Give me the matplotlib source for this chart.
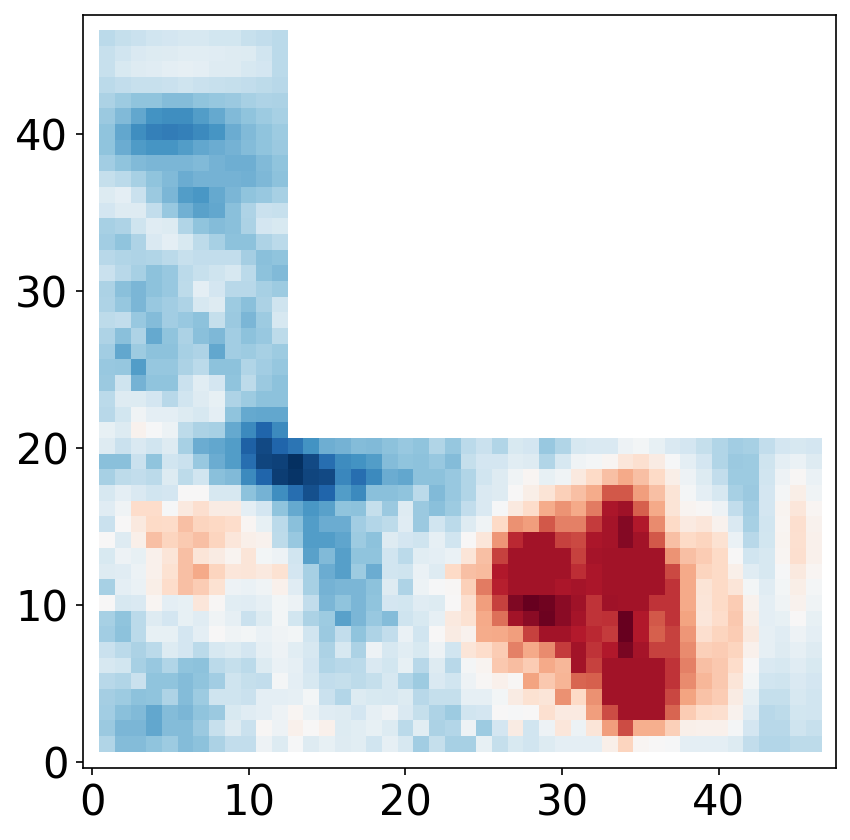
import numpy as np
import matplotlib
matplotlib.use('Agg')
import matplotlib.pyplot as plt

# cell values, top row first
# arm of the L: y = 46 .. 21, x = 1 .. 12
arm_rows = [
    [-.27, -.24, -.22, -.20, -.18, -.17, -.17, -.19, -.19, -.23, -.25, -.27],
    [-.23, -.20, -.15, -.14, -.13, -.11, -.11, -.12, -.13, -.14, -.20, -.27],
    [-.23, -.16, -.13, -.12, -.10, -.09, -.10, -.13, -.13, -.17, -.18, -.27],
    [-.27, -.25, -.23, -.23, -.22, -.21, -.22, -.23, -.24, -.25, -.26, -.28],
    [-.32, -.36, -.40, -.40, -.43, -.43, -.40, -.39, -.37, -.33, -.31, -.32],
    [-.37, -.44, -.52, -.60, -.62, -.62, -.56, -.51, -.44, -.40, -.36, -.33],
    [-.40, -.52, -.62, -.68, -.70, -.68, -.64, -.59, -.50, -.44, -.40, -.36],
    [-.40, -.50, -.57, -.59, -.59, -.56, -.52, -.50, -.47, -.43, -.40, -.37],
    [-.35, -.40, -.44, -.46, -.46, -.46, -.44, -.47, -.49, -.49, -.44, -.40],
    [-.24, -.27, -.33, -.40, -.44, -.50, -.47, -.47, -.47, -.48, -.45, -.41],
    [-.14, -.10, -.22, -.37, -.46, -.56, -.58, -.51, -.46, -.40, -.38, -.33],
    [-.18, -.13, -.13, -.25, -.38, -.48, -.54, -.52, -.42, -.31, -.22, -.23],
    [-.33, -.31, -.21, -.12, -.14, -.30, -.40, -.43, -.42, -.32, -.18, -.16],
    [-.35, -.40, -.31, -.15, -.10, -.16, -.26, -.33, -.41, -.41, -.31, -.27],
    [-.28, -.30, -.31, -.30, -.27, -.23, -.25, -.25, -.25, -.34, -.42, -.40],
    [-.22, -.28, -.33, -.41, -.38, -.27, -.23, -.21, -.17, -.27, -.41, -.44],
    [-.32, -.42, -.46, -.41, -.38, -.26, -.10, -.18, -.28, -.28, -.33, -.36],
    [-.31, -.39, -.46, -.38, -.35, -.31, -.17, -.13, -.36, -.42, -.32, -.21],
    [-.26, -.25, -.38, -.43, -.35, -.38, -.41, -.24, -.37, -.46, -.36, -.17],
    [-.31, -.42, -.31, -.51, -.40, -.32, -.42, -.45, -.35, -.41, -.38, -.26],
    [-.35, -.52, -.36, -.41, -.41, -.33, -.31, -.52, -.35, -.36, -.33, -.36],
    [-.38, -.39, -.56, -.39, -.39, -.32, -.27, -.41, -.41, -.30, -.35, -.39],
    [-.37, -.21, -.47, -.40, -.40, -.22, -.11, -.18, -.40, -.26, -.37, -.41],
    [-.27, -.13, -.14, -.18, -.28, -.20, -.13, -.08, -.31, -.36, -.41, -.41],
    [-.28, -.19, -.04, -.10, -.10, -.14, -.17, -.10, -.40, -.51, -.52, -.52],
    [-.08, -.14, .04, -.01, -.06, -.26, -.32, -.33, -.51, -.64, -.80, -.64],
]

# base of the L: y = 20 .. 1, x = 1 .. 46
base_rows = [
    [-.13, -.22, -.15, -.20, -.13, -.33, -.50, -.52, -.56, -.82, -.90, -.80, -.73, -.60, -.49, -.47,
     -.43, -.44, -.41, -.38, -.40, -.30, -.39, -.27, -.22, -.30, -.16, -.18, -.38, -.30, -.17,
     -.15, -.15, -.05, -.03, -.08, -.15, -.18, -.24, -.30, -.35, -.33, -.25, -.18, -.17, -.18],
    [-.42, -.42, -.22, -.40, -.20, -.22, -.38, -.50, -.56, -.76, -.92, -.93, -1.0, -.90, -.76, -.63,
     -.60, -.56, -.43, -.40, -.41, -.38, -.43, -.24, -.18, -.18, -.11, -.13, -.30, -.17, -.04,
     -.02, .02, .12, .16, .08, -.01, -.10, -.18, -.30, -.37, -.36, -.21, -.10, -.07, -.13],
    [-.33, -.26, -.25, -.27, -.14, -.26, -.20, -.42, -.44, -.64, -.80, -.95, -.98, -.92, -.90, -.65,
     -.76, -.64, -.50, -.52, -.41, -.41, -.38, -.30, -.20, -.13, -.04, .02, -.08, -.04, .10,
     .20, .30, .38, .30, .20, .07, -.05, -.14, -.25, -.36, -.36, -.20, -.05, .01, -.07],
    [-.17, -.10, -.15, -.20, -.18, 0.0, 0.0, -.17, -.17, -.41, -.47, -.62, -.76, -.88, -.80, -.56,
     -.64, -.42, -.42, -.40, -.27, -.44, -.38, -.30, -.15, -.13, 0.0, .07, .14, .24, .30,
     .37, .62, .62, .42, .30, .14, -.02, -.10, -.17, -.33, -.37, -.18, -.02, .07, -.04],
    [-.12, -.04, .18, .18, -.01, .10, .17, .08, .08, -.10, -.18, -.40, -.51, -.58, -.54, -.40,
     -.41, -.24, -.37, -.13, -.37, -.42, -.36, -.25, -.15, -.01, .10, .18, .37, .45, .38,
     .52, .82, .85, .60, .38, .14, .03, .01, -.05, -.25, -.35, -.18, .03, .12, .02],
    [-.22, 0.0, .10, .20, .19, .30, .22, .21, .18, .02, -.08, -.27, -.42, -.56, -.50, -.50,
     -.35, -.29, -.26, -.12, -.37, -.20, -.27, -.13, -.04, .20, .46, .42, .62, .50, .50,
     .70, .83, .92, .80, .47, .20, .09, .12, .04, -.15, -.33, -.20, .02, .17, .04],
    [0.0, -.13, .06, .30, .22, .26, .30, .22, .12, .06, .04, -.26, -.38, -.56, -.56, -.53,
     -.36, -.41, -.13, -.18, -.21, -.09, -.20, 0.0, .12, .44, .75, .84, .84, .68, .66,
     .82, .83, .92, .84, .62, .30, .20, .22, .15, -.07, -.28, -.19, .03, .16, .05],
    [-.16, -.05, -.08, .05, .13, .30, .13, .08, .03, .13, -.03, -.05, -.20, -.54, -.44, -.55,
     -.40, -.40, -.20, -.27, -.11, -.10, -.07, .13, .30, .68, .84, .84, .84, .84, .68,
     .83, .84, .84, .84, .84, .45, .30, .25, .20, 0.0, -.20, -.17, .02, .17, .05],
    [-.13, -.12, -.06, .05, .15, .30, .38, .22, .12, .13, .10, .15, -.18, -.33, -.50, -.55,
     -.36, -.50, -.20, -.21, -.07, -.13, .20, .30, .32, .80, .84, .84, .84, .84, .74,
     .82, .84, .84, .84, .84, .66, .38, .22, .20, .06, -.12, -.17, -.01, .10, .02],
    [-.33, -.10, -.07, .07, .18, .30, .25, .15, -.05, -.07, -.04, .05, -.12, -.33, -.47, -.46,
     -.46, -.41, -.13, -.31, -.06, -.01, .01, .24, .52, .78, .84, .84, .84, .82, .83,
     .82, .84, .84, .84, .84, .72, .38, .14, .20, .13, -.03, -.12, -.03, .07, -.02],
    [0.0, -.17, -.15, .02, -.10, -.08, .12, .01, -.11, -.12, -.09, -.03, -.06, -.25, -.46, -.40,
     -.46, -.40, -.18, -.19, -.12, -.14, 0.0, .17, .42, .68, .93, 1.0, .97, .90, .85,
     .72, .85, .84, .84, .72, .72, .38, .13, .20, .25, .04, -.10, -.04, .04, -.04],
    [-.33, -.40, -.27, -.13, -.18, -.08, -.12, -.04, -.09, -.22, -.14, -.03, -.19, -.32, -.36, -.54,
     -.46, -.38, -.43, -.21, -.16, -.09, .10, .15, .38, .55, .84, .90, .98, .90, .83,
     .72, .73, 1.0, .80, .62, .72, .40, .12, .18, .27, .07, -.10, -.08, 0.0, -.08],
    [-.35, -.41, -.27, -.08, -.08, -.18, -.10, 0.0, -.04, -.03, -.07, -.04, -.03, -.20, -.37, -.25,
     -.40, -.31, -.25, -.07, -.20, 0.0, .08, .04, .37, .38, .42, .68, .84, .84, .79,
     .75, .70, 1.0, .80, .60, .68, .44, .17, .22, .25, .10, -.09, -.12, -.05, -.10],
    [-.22, -.27, -.32, -.27, -.14, -.18, -.27, -.17, -.14, -.18, -.09, -.05, -.11, -.17, -.32, -.17,
     -.32, -.05, -.17, -.11, -.16, -.05, -.20, .13, .18, .25, .50, .38, .47, .70, .84,
     .72, .80, .95, .83, .68, .68, .47, .24, .25, .22, .05, -.09, -.13, -.09, -.13],
    [-.17, -.19, -.33, -.38, -.30, -.40, -.41, -.27, -.24, -.27, -.14, -.07, -.09, -.18, -.30, -.28,
     -.27, -.15, -.19, -.08, -.28, -.13, -.28, -.02, .03, .27, .31, .25, .38, .33, .84,
     .68, .84, .84, .84, .84, .72, .50, .30, .27, .18, 0.0, -.15, -.17, -.12, -.16],
    [-.28, -.30, -.22, -.40, -.40, -.43, -.40, -.35, -.21, -.24, -.25, -.02, -.10, -.17, -.25, -.24,
     -.26, -.24, -.17, -.29, -.36, -.15, -.20, -.05, .01, .05, .01, .40, .27, .34, .58,
     .60, .84, .84, .84, .84, .72, .47, .33, .27, .13, -.03, -.20, -.21, -.15, -.18],
    [-.34, -.36, -.41, -.40, -.31, -.43, -.36, -.21, -.21, -.22, -.10, -.10, -.09, -.03, -.22, -.29,
     -.14, -.16, -.17, -.14, -.28, -.24, -.24, -.09, -.09, -.03, .08, .15, .13, .46, .20,
     .46, .84, .84, .84, .84, .67, .40, .29, .25, .08, -.08, -.24, -.24, -.17, -.20],
    [-.35, -.42, -.44, -.52, -.43, -.46, -.40, -.37, -.16, -.12, -.10, -.05, .02, -.06, -.12, -.13,
     -.18, -.09, -.05, -.15, -.24, -.31, -.36, -.20, -.18, 0.0, -.01, 0.0, .16, .09, .09,
     .42, .65, .84, .84, .84, .58, .25, .18, .17, .04, -.12, -.28, -.26, -.19, -.20],
    [-.37, -.46, -.46, -.52, -.43, -.43, -.37, -.23, -.13, -.22, .01, -.05, .05, 0.0, .05, -.14,
     -.11, -.08, -.14, -.27, -.11, -.32, -.29, -.05, -.36, -.18, .08, -.20, -.05, .12, -.06,
     .13, .42, .65, .36, .36, .24, .06, .05, .05, -.02, -.18, -.28, -.28, -.21, -.23],
    [-.30, -.43, -.43, -.40, -.36, -.43, -.41, -.32, -.25, -.25, -.05, -.14, -.01, -.13, -.08, -.13,
     -.11, -.20, -.09, -.17, -.35, -.24, -.33, -.33, -.08, -.24, -.16, -.20, -.14, -.10, -.10,
     -.10, .06, .22, .02, 0.0, -.01, -.10, -.10, -.10, -.14, -.25, -.29, -.29, -.26, -.26],
]

xticks = [0, 10, 20, 30, 40]
yticks = [0, 10, 20, 30, 40]


def build_grid():
    # blank square, then fill in the two parts of the L
    grid = np.full((46, 46), np.nan)
    for i, row in enumerate(arm_rows):
        grid[45 - i, :len(row)] = row
    for i, row in enumerate(base_rows):
        grid[19 - i, :len(row)] = row
    return grid


def main():
    grid = build_grid()
    # the cells sit a little off the half-integers in the original
    x_edges = np.linspace(0.45, 46.6, 47)
    y_edges = np.linspace(0.63, 46.65, 47)

    fig = plt.figure(figsize=(851 / 150, 840 / 150), dpi=150)
    ax = fig.add_axes([83 / 851, 1 - 768 / 840, 753 / 851, 753 / 840])
    ax.pcolormesh(x_edges, y_edges, np.ma.masked_invalid(grid), cmap='RdBu_r', vmin=-1, vmax=1)

    ax.set_xlim(-0.58, 47.5)
    ax.set_ylim(-0.4, 47.6)
    ax.set_xticks(xticks)
    ax.set_yticks(yticks)
    ax.tick_params(labelsize=20)

    fig.savefig('out.png', dpi=150)
    plt.close(fig)


if __name__ == '__main__':
    main()
